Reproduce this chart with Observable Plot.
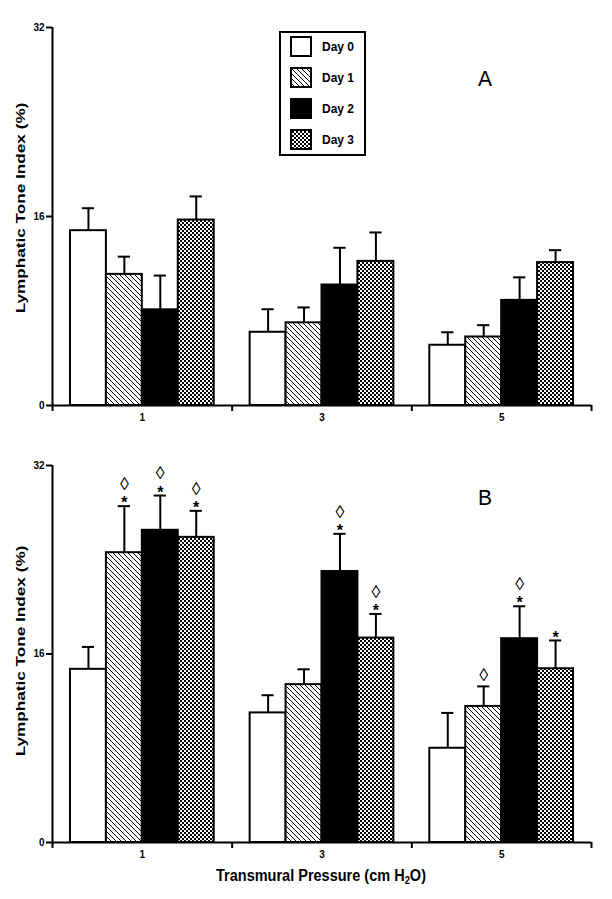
<!DOCTYPE html>
<html>
<head>
<meta charset="utf-8">
<script src="https://cdn.jsdelivr.net/npm/d3@7"></script>
<script src="https://cdn.jsdelivr.net/npm/@observablehq/plot@0.6"></script>
<style>
  body { margin: 0; background: #fff; font-family: "Liberation Sans", Arial, sans-serif; color: #000; }
  #wrap { position: relative; width: 612px; height: 899px; overflow: hidden; }
  .panel { position: absolute; left: 0; }
  .panel svg { display: block; }
  .letter { position: absolute; font-size: 21px; line-height: 1; transform: translate(-50%, -50%) scaleY(1.05); }
  .ylab { position: absolute; font-size: 13px; font-weight: bold; line-height: 1; white-space: nowrap;
          transform: translate(-50%, -50%) rotate(-90deg) scaleX(1.32); }
  .xlab { position: absolute; font-size: 14.5px; font-weight: bold; line-height: 1; white-space: nowrap;
          transform: translate(-50%, -50%) scaleY(1.2); }
  .xlab sub { font-size: 0.65em; line-height: 0; vertical-align: -0.3em; }
  #legend { position: absolute; left: 279px; top: 31px; width: 87px; height: 125px; box-sizing: border-box; border: 2px solid #000; background: #fff; }
  .li { position: absolute; left: 9px; height: 21px; display: flex; align-items: center; }
  .li svg { display: block; }
  .li span { margin-left: 10px; font-size: 12px; font-weight: bold; }
</style>
</head>
<body>
<svg width="0" height="0" style="position:absolute">
  <defs>
    <pattern id="hatch" patternUnits="userSpaceOnUse" width="5" height="5">
      <rect width="5" height="5" fill="#fff"/>
      <path d="M-1,-1 L6,6 M-1,4 L1,6 M4,-1 L6,1" stroke="#000" stroke-width="1"/>
    </pattern>
    <pattern id="checker" patternUnits="userSpaceOnUse" width="4" height="4">
      <rect width="4" height="4" fill="#fff"/>
      <rect width="2" height="2" fill="#000"/>
      <rect x="2" y="2" width="2" height="2" fill="#000"/>
    </pattern>
  </defs>
</svg>
<div id="wrap">
  <div id="pA" class="panel" style="top:0px"></div>
  <div id="pB" class="panel" style="top:440px"></div>
  <div class="ylab" style="left:20px; top:208px">Lymphatic Tone Index (%)</div>
  <div class="ylab" style="left:20px; top:651px">Lymphatic Tone Index (%)</div>
  <div class="letter" style="left:485px; top:78px">A</div>
  <div class="letter" style="left:485px; top:497px">B</div>
  <div class="xlab" style="left:321px; top:875px">Transmural Pressure (cm H<sub>2</sub>O)</div>
  <div id="legend"></div>
</div>
<script>
// ---- data ----
const pressures = ["1", "3", "5"];
const days = ["Day 0", "Day 1", "Day 2", "Day 3"];
const yTicks = [0, 16, 32];

// Panel A: mean and SEM, rows = pressure, columns = day
const meanA = [[14.8, 11.1, 8.1, 15.7], [6.2, 7.0, 10.2, 12.2], [5.1, 5.8, 8.9, 12.1]];
const semA  = [[1.9, 1.5, 2.9, 2.0], [1.95, 1.3, 3.15, 2.45], [1.1, 1.0, 1.95, 1.05]];

// Panel B
const meanB = [[14.7, 24.6, 26.5, 25.9], [11.0, 13.4, 23.0, 17.35], [8.0, 11.55, 17.3, 14.75]];
const semB  = [[1.9, 3.95, 2.95, 2.25], [1.5, 1.3, 3.2, 2.05], [3.0, 1.7, 2.75, 2.4]];
const starB    = [[false, true, true, true], [false, false, true, true], [false, false, true, true]];
const diamondB = [[false, true, true, true], [false, false, true, true], [false, true, true, false]];

// ---- styles ----
const fills = ["#fff", "url(#hatch)", "#000", "url(#checker)"];

function rowsFor(mean, sem, star, diamond) {
  return pressures.flatMap((p, g) => days.map((d, i) => ({
    pressure: p, day: d, g, i,
    mean: mean[g][i], sem: sem[g][i],
    star: star ? star[g][i] : false,
    diamond: diamond ? diamond[g][i] : false
  })));
}

const groupSize = days.length + 1;                 // 4 bars + half-bar padding each side
const slot = r => r.g * groupSize + 0.5 + r.i;     // left edge of a bar in x units
const mid = r => slot(r) + 0.5;
const errTop = r => r.mean + r.sem;
const boundaries = d3.range(pressures.length + 1).map(g => g * groupSize);
const centers = pressures.map((p, g) => g * groupSize + groupSize / 2);

function panel(rows, height, marginTop, marginBottom) {
  const marks = [];
  days.forEach((d, i) => {
    marks.push(Plot.rect(rows.filter(r => r.i === i), {
      x1: slot, x2: r => slot(r) + 1, y1: 0, y2: "mean",
      fill: fills[i], stroke: "#000", strokeWidth: 2
    }));
  });
  marks.push(Plot.ruleX(rows, {x: mid, y1: "mean", y2: errTop, stroke: "#000", strokeWidth: 2}));
  marks.push(Plot.ruleY(rows, {y: errTop, x1: r => mid(r) - 0.17, x2: r => mid(r) + 0.17, stroke: "#000", strokeWidth: 2}));
  marks.push(Plot.ruleY([0], {stroke: "#000", strokeWidth: 2}));
  marks.push(Plot.ruleX([0], {stroke: "#000", strokeWidth: 2}));
  marks.push(Plot.axisX({ticks: boundaries, tickFormat: () => "", tickSize: 6, strokeWidth: 2, label: null}));
  marks.push(Plot.axisX({ticks: centers, tickFormat: v => pressures[centers.indexOf(v)], tickSize: 0, tickPadding: 8,
    label: null, fontSize: 10, fontWeight: "bold"}));
  marks.push(Plot.axisY({ticks: yTicks, tickSize: 6, tickPadding: 2, strokeWidth: 2, label: null,
    fontSize: 10, fontWeight: "bold"}));
  marks.push(Plot.text(rows.filter(r => r.star), {x: mid, y: errTop, text: () => "*", dy: -3, fontSize: 16, fontWeight: "bold"}));
  marks.push(Plot.text(rows.filter(r => r.diamond && r.star), {x: mid, y: errTop, text: () => "\u25CA", dy: -22, fontSize: 18}));
  marks.push(Plot.text(rows.filter(r => r.diamond && !r.star), {x: mid, y: errTop, text: () => "\u25CA", dy: -11, fontSize: 18}));
  return Plot.plot({
    width: 612, height, marginTop, marginBottom, marginLeft: 52, marginRight: 21,
    x: {domain: [0, boundaries[boundaries.length - 1]]},
    y: {domain: [yTicks[0], yTicks[yTicks.length - 1]]},
    style: {fontFamily: "'Liberation Sans', Arial, sans-serif", color: "#000", background: "#fff", overflow: "visible"},
    marks
  });
}

document.getElementById("pA").append(panel(rowsFor(meanA, semA), 440, 27, 35));
document.getElementById("pB").append(panel(rowsFor(meanB, semB, starB, diamondB), 425, 25, 23));

// legend
const legend = document.getElementById("legend");
days.forEach((d, i) => {
  const item = document.createElement("div");
  item.className = "li";
  item.style.top = (3 + i * 31) + "px";
  item.innerHTML = `<svg width="22" height="21"><rect x="1" y="1" width="20" height="19" fill="${fills[i]}" stroke="#000" stroke-width="2"/></svg><span>${d}</span>`;
  legend.append(item);
});
</script>
</body>
</html>
